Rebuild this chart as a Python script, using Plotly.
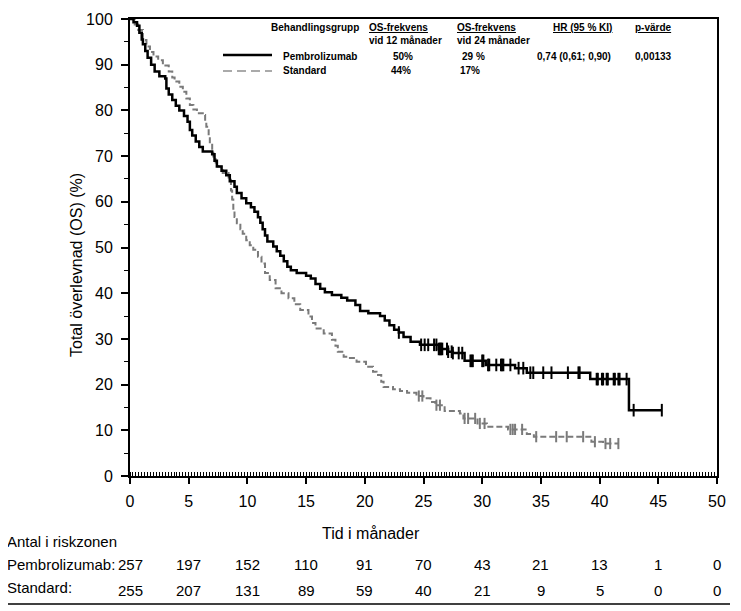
import numpy as np
import plotly.graph_objects as go

# Kaplan-Meier steps (months, % surviving)
pembro_t = [0, 0.3, 0.6, 0.8, 1.0, 1.1, 1.3, 1.5, 1.8, 2.1, 2.5, 3.0, 3.1, 3.3, 3.6, 3.9,
            4.2, 4.6, 4.9, 5.1, 5.3, 5.6, 5.9, 6.2, 7.0, 7.2, 7.4, 7.8, 8.2, 8.5, 8.9, 9.1,
            9.5, 9.9, 10.3, 10.6, 10.9, 11.1, 11.3, 11.5, 11.7, 12.2, 12.5, 12.8, 13.1, 13.4,
            13.7, 14.2, 15.0, 15.4, 15.8, 16.2, 16.6, 17.2, 18.0, 18.5, 19.2, 19.6, 20.3,
            21.3, 21.7, 22.1, 22.5, 22.9, 23.3, 23.9, 24.7, 26.3, 27.1, 27.5, 28.5, 30.3,
            32.8, 33.8, 39.2, 42.5, 45.3]
pembro_s = [100, 99.3, 98.5, 97.0, 95.5, 94.5, 93.0, 91.5, 90.0, 88.5, 87.5, 87.0, 84.8, 83.5, 82.3, 81.0,
            80.0, 78.8, 77.5, 75.7, 74.5, 73.2, 72.0, 71.0, 70.4, 69.0, 67.7, 66.8, 65.8, 64.5, 63.3, 61.9,
            60.8, 59.7, 58.8, 57.8, 56.6, 55.4, 54.0, 52.6, 51.3, 50.2, 49.2, 48.2, 47.0, 45.8,
            45.0, 44.4, 43.8, 43.2, 42.0, 41.0, 40.2, 39.6, 39.0, 38.4, 37.4, 36.1, 35.6,
            35.0, 34.0, 33.0, 32.0, 31.4, 30.4, 29.4, 28.7, 27.8, 27.2, 26.9, 25.2, 24.3,
            23.6, 22.6, 21.2, 14.4, 14.4]
pembro_cens = [22.9, 24.8, 25.1, 25.4, 25.9, 26.1, 26.3, 26.4, 26.5, 26.6, 27.0, 27.1, 27.4, 27.5,
               28.0, 28.3, 29.0, 29.1, 29.2, 30.0, 30.1, 30.5, 30.6, 31.2, 31.6, 31.7, 31.8, 32.4,
               33.1, 33.5, 34.1, 34.35, 35.2, 35.9, 37.3, 38.2, 38.3, 39.75, 39.85, 40.2, 40.3,
               40.6, 40.7, 41.2, 41.3, 41.6, 41.7, 42.3, 42.9, 45.3]

std_t = [0, 0.4, 0.7, 1.1, 1.4, 1.7, 2.0, 2.4, 2.8, 3.3, 3.6, 3.8, 4.2, 4.5, 4.8, 5.1, 5.4, 5.7,
         6.2, 6.4, 6.5, 6.7, 6.8, 7.0, 7.1, 7.3, 7.5, 7.9, 8.4, 8.6, 8.7, 8.8, 8.9, 9.1, 9.4, 9.6,
         9.9, 10.2, 10.5, 10.9, 11.2, 11.5, 11.9, 12.4, 12.9, 13.5, 14.0, 14.5, 15.2, 15.5, 15.8,
         16.5, 17.2, 17.5, 17.7, 18.2, 18.6, 19.3, 20.1, 20.7, 21.0, 21.4, 21.6, 22.4, 23.0, 23.6,
         24.4, 25.0, 25.6, 26.0, 26.8, 28.1, 28.4, 29.6, 30.4, 32.2, 33.8, 34.4, 39.3, 40.3, 41.6]
std_s = [100, 98.8, 97.6, 95.4, 94.0, 92.8, 91.8, 91.0, 89.8, 88.5, 87.2, 86.3, 85.2, 84.1, 82.6, 81.2, 80.2, 79.4,
         79.0, 77.5, 76.4, 74.5, 72.8, 71.0, 69.9, 68.6, 67.7, 66.3, 64.8, 62.5, 60.5, 58.5, 56.7, 55.3, 54.0, 53.0,
         51.6, 50.5, 49.5, 48.0, 46.5, 44.4, 42.9, 41.1, 40.0, 38.9, 37.6, 36.3, 34.9, 33.5, 32.3,
         31.2, 29.8, 28.5, 27.2, 26.1, 25.8, 25.0, 23.9, 22.8, 22.1, 20.6, 19.5, 19.0, 18.6, 18.2,
         17.5, 17.0, 16.2, 15.5, 14.2, 13.7, 12.6, 11.5, 10.8, 10.2, 9.2, 8.6, 7.5, 7.1, 7.1]
std_cens = [24.6, 24.9, 26.1, 26.4, 28.5, 28.8, 29.4, 29.8, 30.2, 32.4, 32.6, 32.8, 33.4, 34.6,
            36.3, 37.2, 38.6, 39.6, 40.5, 40.9, 41.6]

risk_times = [0, 5, 10, 15, 20, 25, 30, 35, 40, 45, 50]
risk_pembro = [257, 197, 152, 110, 91, 70, 43, 21, 13, 1, 0]
risk_std = [255, 207, 131, 89, 59, 40, 21, 9, 5, 0, 0]


def surv_at(ts, ss, t):
    idx = np.searchsorted(np.array(ts), t, side='right') - 1
    return [ss[i] for i in idx]


# helpers to place layout items by pixel position (plot area 130..717 x 19..476)
def px(x):
    return (x - 130) / 587.0


def py(y):
    return (476 - y) / 457.0


BLACK = '#000000'
GREY = '#7a7a7a'
FONT = 'Liberation Sans, Arial, sans-serif'

fig = go.Figure()

fig.add_trace(go.Scatter(x=std_t, y=std_s, mode='lines', line_shape='hv',
                         line=dict(color=GREY, width=2, dash='6px,3px'), showlegend=False))
fig.add_trace(go.Scatter(x=std_cens, y=surv_at(std_t, std_s, std_cens), mode='markers',
                         marker=dict(symbol='line-ns', size=8, line=dict(color=GREY, width=2)),
                         showlegend=False))
fig.add_trace(go.Scatter(x=pembro_t, y=pembro_s, mode='lines', line_shape='hv',
                         line=dict(color=BLACK, width=2.5), showlegend=False))
fig.add_trace(go.Scatter(x=pembro_cens, y=surv_at(pembro_t, pembro_s, pembro_cens), mode='markers',
                         marker=dict(symbol='line-ns', size=9, line=dict(color=BLACK, width=2)),
                         showlegend=False))

fig.update_xaxes(range=[0, 50], tickvals=risk_times, ticks='outside', ticklen=6, tickwidth=1.5,
                 tickcolor='black', showline=True, linecolor='black', linewidth=2, mirror=True,
                 showgrid=False, zeroline=False, ticklabelstandoff=4, automargin=False,
                 tickfont=dict(size=16, family=FONT, color='black'),
                 minor=dict(dtick=0.25, ticks='inside', ticklen=4, tickcolor='black', tickwidth=1,
                            showgrid=False))
fig.update_yaxes(range=[0, 100], dtick=10, ticks='outside', ticklen=7, tickwidth=1.5,
                 tickcolor='black', showline=True, linecolor='black', linewidth=2, mirror=True,
                 showgrid=False, zeroline=False, ticklabelstandoff=5, automargin=False,
                 tickfont=dict(size=16, family=FONT, color='black'),
                 minor=dict(dtick=5, ticks='outside', ticklen=4, tickcolor='black', tickwidth=1,
                            showgrid=False))

anns = []
# axis titles
anns.append(dict(x=px(371), y=py(533), xref='paper', yref='paper', text='Tid i månader',
                 showarrow=False, xanchor='center', yanchor='middle', font=dict(size=16)))
anns.append(dict(x=px(76), y=py(265), xref='paper', yref='paper', text='Total överlevnad (OS) (%)',
                 showarrow=False, textangle=-90, xanchor='center', yanchor='middle',
                 font=dict(size=16)))

# legend table inside the plot
hdr = dict(size=10, family=FONT, color='black')
for x0, txt in [(269, '<b>Behandlingsgrupp</b>'),
                (367, '<b><u>OS-frekvens</u><br>vid 12 månader</b>'),
                (455, '<b><u>OS-frekvens</u><br>vid 24 månader</b>'),
                (551, '<b><u>HR (95 % KI)</u></b>'),
                (633, '<b><u>p-värde</u></b>')]:
    anns.append(dict(x=px(x0), y=py(20), xref='paper', yref='paper', text=txt, showarrow=False,
                     xanchor='left', yanchor='top', align='left', font=hdr))
for x0, y0, txt in [(281, 56, 'Pembrolizumab'), (391, 56, '50%'), (460, 56, '29 %'),
                    (535, 56, '0,74 (0,61; 0,90)'), (633, 56, '0,00133'),
                    (281, 71, 'Standard'), (389, 71, '44%'), (458, 71, '17%')]:
    anns.append(dict(x=px(x0), y=py(y0), xref='paper', yref='paper', text='<b>' + txt + '</b>',
                     showarrow=False, xanchor='left', yanchor='middle', font=hdr))

# numbers at risk
anns.append(dict(x=px(5), y=py(541), xref='paper', yref='paper', text='Antal i riskzonen',
                 showarrow=False, xanchor='left', yanchor='middle', font=dict(size=15)))
anns.append(dict(x=px(5), y=py(564), xref='paper', yref='paper', text='Pembrolizumab:',
                 showarrow=False, xanchor='left', yanchor='middle', font=dict(size=15)))
anns.append(dict(x=px(5), y=py(587), xref='paper', yref='paper', text='Standard:',
                 showarrow=False, xanchor='left', yanchor='middle', font=dict(size=15)))
for t, n1, n2 in zip(risk_times, risk_pembro, risk_std):
    anns.append(dict(x=t, y=py(564), xref='x', yref='paper', text=str(n1), showarrow=False,
                     xanchor='center', yanchor='middle', font=dict(size=15)))
    anns.append(dict(x=t, y=py(590), xref='x', yref='paper', text=str(n2), showarrow=False,
                     xanchor='center', yanchor='middle', font=dict(size=15)))

shapes = [
    dict(type='line', xref='paper', yref='paper', x0=px(223), x1=px(272), y0=py(55), y1=py(55),
         line=dict(color=BLACK, width=2.5)),
    dict(type='line', xref='paper', yref='paper', x0=px(223), x1=px(272), y0=py(71), y1=py(71),
         line=dict(color='#aaaaaa', width=2, dash='9px,5px')),
    dict(type='line', xref='paper', yref='paper', x0=px(0), x1=px(730), y0=py(604), y1=py(604),
         line=dict(color=BLACK, width=1.5)),
]

# the page puts the figure 8px in from the top-left corner, so margins are shifted by that
fig.update_layout(width=741, height=611, autosize=False,
                  margin=dict(l=122, r=32, t=11, b=143),
                  paper_bgcolor='white', plot_bgcolor='white',
                  font=dict(family=FONT, size=15, color='black'),
                  annotations=anns, shapes=shapes, showlegend=False)

fig.write_html("out.html")
